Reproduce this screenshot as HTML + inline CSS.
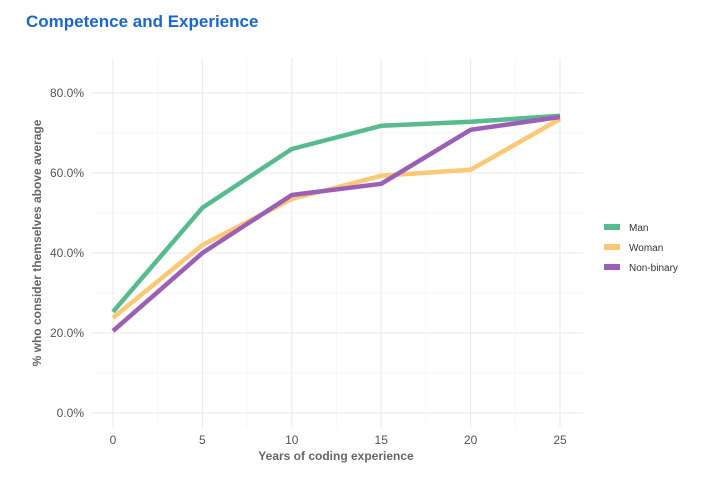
<!DOCTYPE html>
<html><head><meta charset="utf-8"><style>
body{margin:0;background:#fff;font-family:"Liberation Sans",sans-serif}
</style></head><body>
<svg width="712" height="488">
<text x="26" y="27" font-size="17" font-weight="bold" fill="#1a66cc">Competence and Experience</text>
<g id="grid"></g><g id="lines"></g><g id="axes"></g><g id="legend"></g>
</svg>
<script>
const years=[0,5,10,15,20,25];
const seriesNames=["Man","Woman","Non-binary"];
const manVals=[25.3,51.3,66,71.8,72.8,74.3];
const womanVals=[23.8,42,53.5,59.3,60.8,73.5];
const nbVals=[20.5,40,54.5,57.3,70.8,74];
const yTicks=[0,20,40,60,80];
const xTicks=[0,5,10,15,20,25];
const colors=["#57bb8e","#fcc876","#9b5fb5"];
const NS="http://www.w3.org/2000/svg";
const xs=v=>113+v*17.88, ys=v=>413-v*4;
function mk(t,a,p){const e=document.createElementNS(NS,t);for(const k in a)e.setAttribute(k,a[k]);p.appendChild(e);return e;}
const grid=document.getElementById('grid'),axes=document.getElementById('axes'),lines=document.getElementById('lines'),legend=document.getElementById('legend');
for(let v=0;v<=80;v+=10){const l=mk('line',{x1:90,x2:583,y1:ys(v),y2:ys(v),stroke:v%20?'#f4f4f4':'#ebebeb','stroke-width':v%20?0.7:1.1},grid);
}
for(let v=0;v<=25;v+=2.5){const l=mk('line',{x1:xs(v),x2:xs(v),y1:58,y2:428,stroke:v%5?'#f4f4f4':'#ebebeb','stroke-width':v%5?0.7:1.1},grid);
}
yTicks.forEach(v=>{const t=mk('text',{x:84,y:ys(v)+4,'text-anchor':'end','font-size':12,fill:'#555'},axes);t.textContent=v.toFixed(1)+'%';
});
xTicks.forEach(v=>{const t=mk('text',{x:xs(v),y:444,'text-anchor':'middle','font-size':12,fill:'#555'},axes);t.textContent=v;
});
let t=mk('text',{x:336,y:460,'text-anchor':'middle','font-size':12,'font-weight':'bold',fill:'#666'},axes);t.textContent='Years of coding experience';

t=mk('text',{x:0,y:0,transform:'translate(41,243) rotate(-90)','text-anchor':'middle','font-size':12,'font-weight':'bold',fill:'#666'},axes);t.textContent='% who consider themselves above average';

[manVals,womanVals,nbVals].forEach((vals,i)=>{const p=mk('polyline',{points:vals.map((v,j)=>xs(years[j])+','+ys(v)).join(' '),fill:'none',stroke:colors[i],'stroke-width':4.5,'stroke-linejoin':'round'},lines);

const r=mk('rect',{x:604,y:224+i*20,width:16,height:6,fill:colors[i]},legend);

const lt=mk('text',{x:629,y:231+i*20,'font-size':10,fill:'#333'},legend);lt.textContent=seriesNames[i];
});
</script>
</body></html>
